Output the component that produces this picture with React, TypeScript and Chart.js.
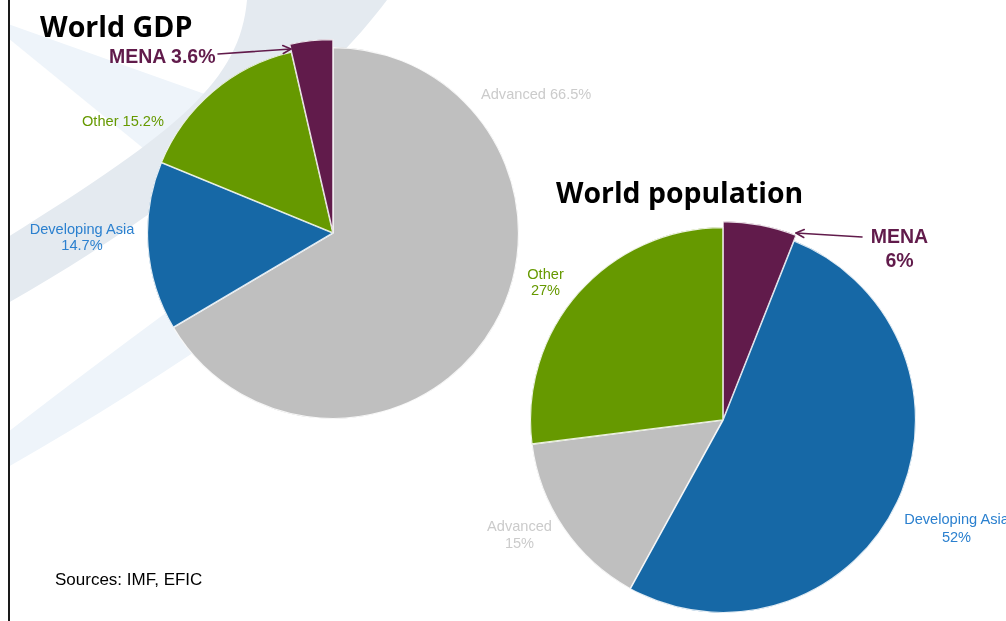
import { useEffect, useRef } from 'react';
import { Chart, registerables } from 'chart.js';

Chart.register(...registerables);

// World GDP shares (%), listed clockwise from 12 o'clock
const gdpRegions = ['Advanced', 'Developing Asia', 'Other', 'MENA'];
const gdpShares = [66.5, 14.7, 15.2, 3.6];

// World population shares (%), listed clockwise from 12 o'clock
const popRegions = ['MENA', 'Developing Asia', 'Advanced', 'Other'];
const popShares = [6, 52, 15, 27];

const gdpTitle = 'World GDP';
const popTitle = 'World population';
const highlightRegion = 'MENA';
const sourceNote = 'Sources: IMF, EFIC';

const sliceColors: Record<string, string> = {
  Advanced: '#bfbfbf',
  'Developing Asia': '#1668a6',
  Other: '#669900',
  MENA: '#611b4b',
};

const labelColors: Record<string, string> = {
  Advanced: '#cbcbcb',
  'Developing Asia': '#2b80cf',
  Other: '#669900',
  MENA: '#611b4b',
};

const LABEL_FONT = '"Liberation Sans", Arial, sans-serif';
const TITLE_FONT = '"Open Sans", sans-serif';

// Enlarges the outer radius of one named slice so it stands proud of the pie.
const growSlice = {
  id: 'growSlice',
  afterDatasetUpdate(chart: any, args: any, opts: any) {
    const labels = chart.data.labels as string[];
    args.meta.data.forEach((arc: any, i: number) => {
      if (labels[i] === opts.label) arc.outerRadius += opts.extra;
    });
  },
};

type PieProps = {
  regions: string[];
  shares: number[];
  radius: number;
  extra: number;
  left: number;
  top: number;
  size: number;
};

function Pie({ regions, shares, radius, extra, left, top, size }: PieProps) {
  const ref = useRef<HTMLCanvasElement>(null);
  useEffect(() => {
    const chart = new Chart(ref.current as HTMLCanvasElement, {
      type: 'pie',
      data: {
        labels: regions,
        datasets: [
          {
            data: shares,
            backgroundColor: regions.map((r) => sliceColors[r]),
            borderColor: 'rgba(255,255,255,0.85)',
            borderWidth: 0.8,
            borderAlign: 'inner',
            radius,
          } as any,
        ],
      },
      options: {
        responsive: false,
        animation: false,
        devicePixelRatio: 1,
        events: [],
        layout: { padding: 0 },
        plugins: {
          legend: { display: false },
          tooltip: { enabled: false },
          growSlice: { label: highlightRegion, extra },
        } as any,
      },
      plugins: [growSlice as any],
    });
    return () => chart.destroy();
  }, []);
  return (
    <canvas
      ref={ref}
      width={size}
      height={size}
      style={{ position: 'absolute', left, top, width: size, height: size }}
    />
  );
}

function Arrow({ x1, y1, x2, y2, color }: { x1: number; y1: number; x2: number; y2: number; color: string }) {
  const dx = x2 - x1;
  const dy = y2 - y1;
  const len = Math.hypot(dx, dy);
  const ux = dx / len;
  const uy = dy / len;
  const back = 8;
  const half = 4;
  const bx = x2 - ux * back;
  const by = y2 - uy * back;
  const head = `M ${bx - uy * half} ${by + ux * half} L ${x2} ${y2} L ${bx + uy * half} ${by - ux * half}`;
  return (
    <g stroke={color} strokeWidth={1.6} fill="none" strokeLinecap="round" strokeLinejoin="round">
      <line x1={x1} y1={y1} x2={x2} y2={y2} />
      <path d={head} />
    </g>
  );
}

type LabelSpot = { x: number; y: number; anchor: 'start' | 'middle'; stacked: boolean; size: number; bold?: boolean; lh?: number };

// Label placement for each pie, keyed by region
const gdpLabelSpots: Record<string, LabelSpot> = {
  Advanced: { x: 481, y: 99, anchor: 'start', stacked: false, size: 14.6 },
  'Developing Asia': { x: 82, y: 234, anchor: 'middle', stacked: true, size: 14.6, lh: 16 },
  Other: { x: 82, y: 126, anchor: 'start', stacked: false, size: 14.6 },
  MENA: { x: 109, y: 63, anchor: 'start', stacked: false, size: 19.5, bold: true },
};

const popLabelSpots: Record<string, LabelSpot> = {
  MENA: { x: 899.5, y: 243, anchor: 'middle', stacked: true, size: 19.5, bold: true, lh: 23.5 },
  'Developing Asia': { x: 956.5, y: 524, anchor: 'middle', stacked: true, size: 14.6, lh: 17.5 },
  Advanced: { x: 519.5, y: 530.5, anchor: 'middle', stacked: true, size: 14.6, lh: 17 },
  Other: { x: 545.5, y: 279, anchor: 'middle', stacked: true, size: 14.6, lh: 16 },
};

function SliceLabels({ regions, shares, spots }: { regions: string[]; shares: number[]; spots: Record<string, LabelSpot> }) {
  return (
    <>
      {regions.map((r, i) => {
        const s = spots[r];
        const pct = `${shares[i]}%`;
        const common = {
          fill: labelColors[r],
          fontFamily: LABEL_FONT,
          fontSize: s.size,
          fontWeight: s.bold ? 700 : 400,
          textAnchor: s.anchor,
        } as any;
        if (s.stacked) {
          return (
            <text key={r} x={s.x} y={s.y} {...common}>
              <tspan x={s.x} y={s.y}>{r}</tspan>
              <tspan x={s.x} y={s.y + (s.lh || 16)}>{pct}</tspan>
            </text>
          );
        }
        return (
          <text key={r} x={s.x} y={s.y} {...common}>
            {`${r} ${pct}`}
          </text>
        );
      })}
    </>
  );
}

export default function App() {
  const W = 1006;
  const H = 621;
  return (
    <div
      style={{
        position: 'absolute',
        left: 0,
        top: 0,
        width: W,
        height: H,
        overflow: 'hidden',
        background: '#ffffff',
      }}
    >
      {/* decorative ribbons behind the charts */}
      <svg width={W} height={H} style={{ position: 'absolute', left: 0, top: 0 }}>
        <path d="M 8 24 L 230 103 L 170 170 L 8 38 Z" fill="#eef4fa" />
        <path d="M 8 432 Q 120 345 300 215 L 340 250 Q 170 375 8 467 Z" fill="#eef4fa" />
        <path d="M 247 0 C 240 80 180 130 8 237 L 8 303 C 180 205 320 90 387 0 Z" fill="#e4eaf0" />
      </svg>

      <Pie regions={gdpRegions} shares={gdpShares} radius={186} extra={8} left={123} top={23} size={420} />
      <Pie regions={popRegions} shares={popShares} radius={193} extra={6} left={513} top={210} size={420} />

      <svg width={W} height={H} style={{ position: 'absolute', left: 0, top: 0 }}>
        <text x={40} y={36.5} fontFamily={TITLE_FONT} fontWeight={700} fontSize={28.6} fill="#000">
          {gdpTitle}
        </text>
        <text x={556} y={203} fontFamily={TITLE_FONT} fontWeight={700} fontSize={28.4} fill="#000">
          {popTitle}
        </text>

        <SliceLabels regions={gdpRegions} shares={gdpShares} spots={gdpLabelSpots} />
        <SliceLabels regions={popRegions} shares={popShares} spots={popLabelSpots} />

        <Arrow x1={218} y1={54} x2={291} y2={49} color={sliceColors.MENA} />
        <Arrow x1={862} y1={237} x2={796} y2={233} color={sliceColors.MENA} />

        <text x={55} y={585} fontFamily={LABEL_FONT} fontSize={17} fill="#000">
          {sourceNote}
        </text>
      </svg>

      <div
        style={{
          position: 'absolute',
          left: 7.5,
          top: 0,
          width: 2,
          height: H,
          background: '#1a1a1a',
        }}
      />
    </div>
  );
}
